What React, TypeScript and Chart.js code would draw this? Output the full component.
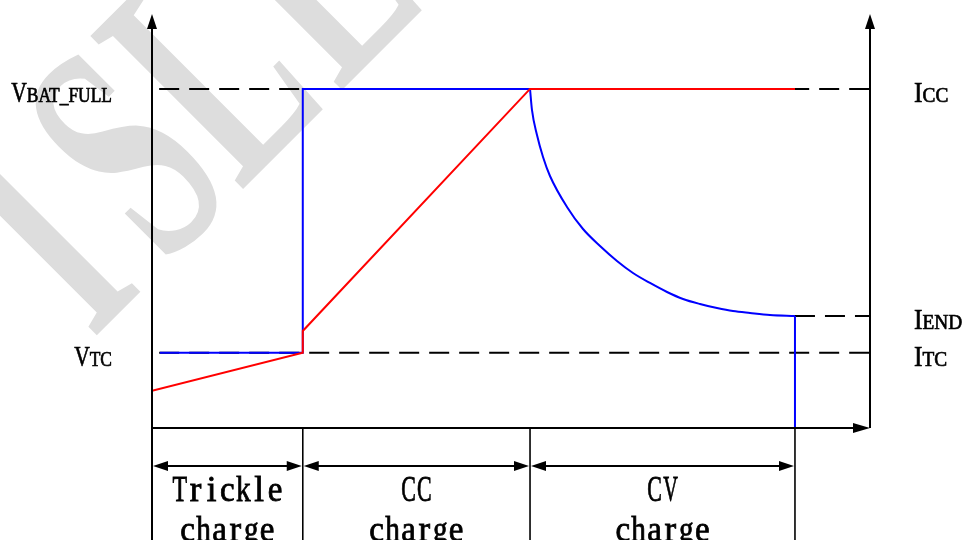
import React, { useEffect, useRef } from "react";
import { Chart, registerables } from "chart.js";

Chart.register(...registerables);

// ---- scale ranges (arbitrary time / level units) ----
const X_MIN = 0;
const X_MAX = 100;
const Y_MIN = 0;
const Y_MAX = 100;

// ---- phases ----
const phaseBounds = [0, 21.0, 52.65, 89.55];
const phaseLine1 = ["Trickle", "CC", "CV"];
const phaseLine2 = ["charge", "charge", "charge"];

// ---- levels ----
const LEVEL_FULL = 82.1; // V_BAT_FULL and I_CC
const LEVEL_TC = 18.2; // V_TC and I_TC
const LEVEL_END = 27.1; // I_END

// ---- charge current (blue) ----
const currentStepX = [1.1, 21.0, 21.0, 52.65];
const currentStepY = [LEVEL_TC, LEVEL_TC, LEVEL_FULL, LEVEL_FULL];
const currentCurveX = [52.65, 52.92, 53.62, 54.46, 55.43, 57.8, 60.03, 62.4, 64.76, 66.99, 69.36, 71.73, 73.96, 76.32, 78.69, 80.92, 83.29, 86.07, 89.55];
const currentCurveY = [82.08, 77.0, 70.94, 65.62, 61.02, 53.51, 48.18, 44.07, 40.44, 37.53, 35.11, 32.93, 31.23, 30.02, 29.06, 28.33, 27.85, 27.36, 27.12];
const currentEndX = [89.55, 89.55];
const currentEndY = [LEVEL_END, 0];

// ---- battery voltage (red) ----
const voltageX = [0, 21.0, 21.0, 52.65, 89.55];
const voltageY = [9.0, LEVEL_TC, 23.5, LEVEL_FULL, LEVEL_FULL];

// ---- dashed guides ----
const guideLevels = [LEVEL_FULL, LEVEL_TC, LEVEL_END];
const guideStartX = [1.0, 1.0, 89.55];

// ---- level labels ----
const leftMain = ["V", "V"];
const leftSub = ["BAT_FULL", "TC"];
const leftLevel = [LEVEL_FULL, LEVEL_TC];
const rightMain = ["I", "I", "I"];
const rightSub = ["CC", "END", "TC"];
const rightLevel = [LEVEL_FULL, LEVEL_END, LEVEL_TC];

const WATERMARK = ["I", "S", "L", "L"];
const WATERMARK_LEFT = [-175, -73, 35, 175];

const BLUE = "#0000ff";
const RED = "#ff0000";
const BLACK = "#000000";

function pts(xs: number[], ys: number[]) {
  return xs.map((x, i) => ({ x, y: ys[i] }));
}

function drawCondensed(ctx: CanvasRenderingContext2D, text: string, x: number, y: number, font: string, sx: number, align: "left" | "right" | "center") {
  ctx.save();
  ctx.font = font;
  const w = ctx.measureText(text).width * sx;
  let left = x;
  if (align === "right") left = x - w;
  if (align === "center") left = x - w / 2;
  ctx.translate(left, y);
  ctx.scale(sx, 1);
  ctx.textAlign = "left";
  ctx.textBaseline = "alphabetic";
  ctx.lineWidth = 0.7;
  ctx.fillText(text, 0, 0);
  ctx.strokeText(text, 0, 0);
  ctx.restore();
  return w;
}

// serif text laid out on a fixed (monospace) cell grid
function drawMonoSerif(ctx: CanvasRenderingContext2D, text: string, cx: number, y: number, font: string, cell: number) {
  ctx.save();
  ctx.font = font;
  ctx.textAlign = "left";
  ctx.textBaseline = "alphabetic";
  ctx.lineWidth = 0.8;
  const total = cell * text.length;
  let left = cx - total / 2;
  for (const ch of text) {
    const w = ctx.measureText(ch).width;
    const maxW = cell * 0.92;
    const s = w > maxW ? maxW / w : 1;
    ctx.save();
    ctx.translate(left + cell / 2 - (w * s) / 2, y);
    ctx.scale(s, 1);
    ctx.fillText(ch, 0, 0);
    ctx.strokeText(ch, 0, 0);
    ctx.restore();
    left += cell;
  }
  ctx.restore();
}

function tri(ctx: CanvasRenderingContext2D, ax: number, ay: number, bx: number, by: number, cx: number, cy: number) {
  ctx.beginPath();
  ctx.moveTo(ax, ay);
  ctx.lineTo(bx, by);
  ctx.lineTo(cx, cy);
  ctx.closePath();
  ctx.fill();
}

const decorPlugin = {
  id: "decor",
  beforeDatasetsDraw(chart: any) {
    const ctx: CanvasRenderingContext2D = chart.ctx;
    // watermark
    ctx.save();
    ctx.fillStyle = "#dddddd";
    ctx.font = "bold 330px 'Liberation Serif'";
    ctx.translate(216, 216);
    ctx.rotate(-Math.PI / 4);
    ctx.textBaseline = "alphabetic";
    for (let i = 0; i < WATERMARK.length; i++) {
      ctx.save();
      ctx.translate(WATERMARK_LEFT[i], 0);
      ctx.scale(0.58, 1);
      ctx.fillText(WATERMARK[i], 0, 0);
      ctx.restore();
    }
    ctx.restore();
  },
  afterDatasetsDraw(chart: any) {
    const ctx: CanvasRenderingContext2D = chart.ctx;
    const xs = chart.scales.x;
    const ys = chart.scales.y;
    const area = chart.chartArea;
    const x0 = xs.getPixelForValue(X_MIN);
    const x1 = xs.getPixelForValue(X_MAX);
    const y0 = ys.getPixelForValue(Y_MIN);
    const yTop = area.top - 1;
    const bottom = chart.height;

    ctx.save();
    ctx.strokeStyle = BLACK;
    ctx.fillStyle = BLACK;
    ctx.lineWidth = 2;
    ctx.lineCap = "butt";

    // left axis (continues below as a phase separator)
    ctx.beginPath();
    ctx.moveTo(x0, bottom);
    ctx.lineTo(x0, yTop + 10);
    ctx.stroke();
    tri(ctx, x0, yTop, x0 - 5, yTop + 15, x0 + 5, yTop + 15);

    // right axis
    ctx.beginPath();
    ctx.moveTo(x1, y0);
    ctx.lineTo(x1, yTop + 10);
    ctx.stroke();
    tri(ctx, x1, yTop, x1 - 5, yTop + 15, x1 + 5, yTop + 15);

    // x axis
    ctx.beginPath();
    ctx.moveTo(x0, y0);
    ctx.lineTo(x1 - 10, y0);
    ctx.stroke();
    tri(ctx, x1, y0, x1 - 17, y0 - 5, x1 - 17, y0 + 5);

    // phase separators & arrows
    const arrowY = y0 + 38;
    ctx.lineWidth = 1.6;
    for (let i = 1; i < phaseBounds.length; i++) {
      const px = xs.getPixelForValue(phaseBounds[i]);
      ctx.beginPath();
      ctx.moveTo(px, y0);
      ctx.lineTo(px, bottom);
      ctx.stroke();
    }
    ctx.lineWidth = 2;
    const monoFont = "35px 'Liberation Serif'";
    for (let i = 0; i < phaseBounds.length - 1; i++) {
      const a = xs.getPixelForValue(phaseBounds[i]) + 1;
      const b = xs.getPixelForValue(phaseBounds[i + 1]) - 1;
      ctx.beginPath();
      ctx.moveTo(a + 8, arrowY);
      ctx.lineTo(b - 8, arrowY);
      ctx.stroke();
      tri(ctx, a, arrowY, a + 15, arrowY - 5, a + 15, arrowY + 5);
      tri(ctx, b, arrowY, b - 15, arrowY - 5, b - 15, arrowY + 5);
      const cx = (a + b) / 2;
      drawMonoSerif(ctx, phaseLine1[i], cx, y0 + 73, monoFont, 15.9);
      drawMonoSerif(ctx, phaseLine2[i], cx, y0 + 113, monoFont, 15.9);
    }

    // level labels
    const bigFont = "30px 'Liberation Serif'";
    const smallFont = "21px 'Liberation Serif'";
    for (let i = 0; i < leftMain.length; i++) {
      const py = ys.getPixelForValue(leftLevel[i]) + 13;
      const right = 112;
      const ws = drawCondensed(ctx, leftSub[i], right, py, smallFont, 0.83, "right");
      drawCondensed(ctx, leftMain[i], right - ws, py, bigFont, 0.72, "right");
    }
    for (let i = 0; i < rightMain.length; i++) {
      const py = ys.getPixelForValue(rightLevel[i]) + 13;
      const left = 914;
      const wm = drawCondensed(ctx, rightMain[i], left, py, bigFont, 0.85, "left");
      drawCondensed(ctx, rightSub[i], left + wm, py, smallFont, 0.92, "left");
    }
    ctx.restore();
  },
};

export default function App() {
  const ref = useRef<HTMLCanvasElement | null>(null);

  useEffect(() => {
    if (!ref.current) return;
    const guideSets = guideLevels.map((lv, i) => ({
      data: pts([guideStartX[i], X_MAX], [lv, lv]),
      borderColor: BLACK,
      borderWidth: 2,
      borderDash: [20, 10],
      pointRadius: 0,
      tension: 0,
      fill: false,
    }));
    const chart = new Chart(ref.current, {
      type: "line",
      data: {
        datasets: [
          {
            data: pts(voltageX, voltageY),
            borderColor: RED,
            borderWidth: 2,
            pointRadius: 0,
            tension: 0,
            fill: false,
          },
          {
            data: pts(currentStepX, currentStepY),
            borderColor: BLUE,
            borderWidth: 2,
            pointRadius: 0,
            tension: 0,
            fill: false,
          },
          {
            data: pts(currentCurveX, currentCurveY),
            borderColor: BLUE,
            borderWidth: 2,
            pointRadius: 0,
            cubicInterpolationMode: "monotone",
            fill: false,
          },
          {
            data: pts(currentEndX, currentEndY),
            borderColor: BLUE,
            borderWidth: 2,
            pointRadius: 0,
            tension: 0,
            fill: false,
          },
          ...guideSets,
        ] as any,
      },
      options: {
        animation: false,
        responsive: false,
        devicePixelRatio: 1,
        events: [],
        layout: { padding: { left: 152, right: 92, top: 15, bottom: 112 } },
        plugins: { legend: { display: false }, tooltip: { enabled: false } },
        scales: {
          x: { type: "linear", min: X_MIN, max: X_MAX, display: false },
          y: { type: "linear", min: Y_MIN, max: Y_MAX, display: false },
        },
      } as any,
      plugins: [decorPlugin as any],
    });
    return () => chart.destroy();
  }, []);

  return (
    <div style={{ position: "fixed", left: 0, top: 0, width: 962, height: 540, background: "#ffffff" }}>
      <canvas ref={ref} width={962} height={540} style={{ display: "block", width: 962, height: 540 }} />
    </div>
  );
}
